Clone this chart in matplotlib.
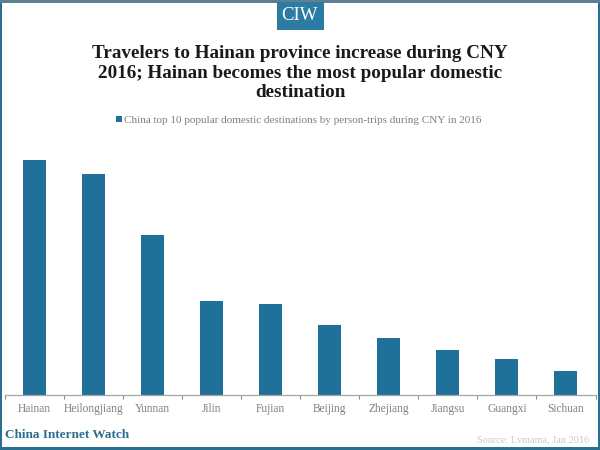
import matplotlib
matplotlib.use('Agg')
import matplotlib.pyplot as plt
from matplotlib.patches import Rectangle

plt.rcParams['font.family'] = ['Liberation Serif', 'DejaVu Serif']

# values, the source chart has no value axis
destinations = ['Hainan', 'Heilongjiang', 'Yunnan', 'Jilin', 'Fujian',
                'Beijing', 'Zhejiang', 'Jiangsu', 'Guangxi', 'Sichuan']
person_trips = [234.5, 220.5, 159.5, 93.5, 90.5, 69.5, 56.5, 44.5, 35.5, 23.5]

title = ('Travelers to Hainan province increase during CNY\n'
         '2016; Hainan becomes the most popular domestic\n'
         'destination')
legend_label = 'China top 10 popular domestic destinations by person-trips during CNY in 2016'

TEAL = '#1f7199'
FRAME = '#2a6f8f'
GREY = '#7f7f7f'

W, H = 600, 450
fig = plt.figure(figsize=(6, 4.5), dpi=100, facecolor='white')

# axes placed in pixels, y flipped for figure coords
left, right, top, base = 5, 595.5, 130, 394.5
ax = fig.add_axes([left / W, 1 - base / H, (right - left) / W, (base - top) / H])
ax.bar(range(len(destinations)), person_trips, width=0.39, color=TEAL)
ax.set_xlim(-0.5, len(destinations) - 0.5)
ax.set_ylim(0, base - top)
ax.set_yticks([])
for s in ['top', 'left', 'right']:
    ax.spines[s].set_visible(False)
ax.spines['bottom'].set_color('#a6a6a6')
ax.spines['bottom'].set_linewidth(0.9)

ax.set_xticks([i - 0.5 for i in range(len(destinations) + 1)], minor=False)
ax.set_xticklabels([])
ax.tick_params(axis='x', direction='out', length=3, width=0.8, color='#8c8c8c')
ax.set_xticks(range(len(destinations)), labels=destinations, minor=True)
ax.tick_params(axis='x', which='minor', length=0, pad=6.3, labelsize=8.3, labelcolor=GREY)
ax.patch.set_alpha(0)

fig.text(300 / W, 1 - 73 / H, title, ha='center', va='center', fontsize=13.8,
         fontweight='bold', color='#1a1a1a', linespacing=1.2)

# legend marker and label
fig.add_artist(Rectangle((116 / W, 1 - 121.5 / H), 5.5 / W, 5.5 / H, transform=fig.transFigure,
                         color=TEAL, lw=0))
fig.text(124 / W, 1 - 120.5 / H, legend_label, ha='left', va='center', fontsize=8.0, color=GREY)

# CIW badge and page frame
fig.add_artist(Rectangle((276.5 / W, 1 - 29.5 / H), 47.5 / W, 27.5 / H, transform=fig.transFigure,
                         color='#2b7ba3', lw=0, zorder=3))
fig.text(300 / W, 1 - 15.5 / H, 'CIW', ha='center', va='center', fontsize=13.5,
         color='white', zorder=4)
fig.add_artist(Rectangle((0, 1 - 3 / H), 1, 3 / H, transform=fig.transFigure,
                         color='#5d7f91', lw=0, zorder=2))
fig.add_artist(Rectangle((0, 0), 2 / W, 1, transform=fig.transFigure, color=FRAME, lw=0))
fig.add_artist(Rectangle((1 - 2 / W, 0), 2 / W, 1, transform=fig.transFigure, color=FRAME, lw=0))
fig.add_artist(Rectangle((0, 0), 1, 3 / H, transform=fig.transFigure, color=FRAME, lw=0))

fig.text(5 / W, 1 - 434.5 / H, 'China Internet Watch', ha='left', va='center', fontsize=9.5,
         fontweight='bold', color='#2a6f8f')
fig.text(589 / W, 1 - 440 / H, 'Source: Lvmama, Jan 2016', ha='right', va='center',
         fontsize=7.4, color='#c8c8c8')

fig.savefig('out.png', dpi=100)
